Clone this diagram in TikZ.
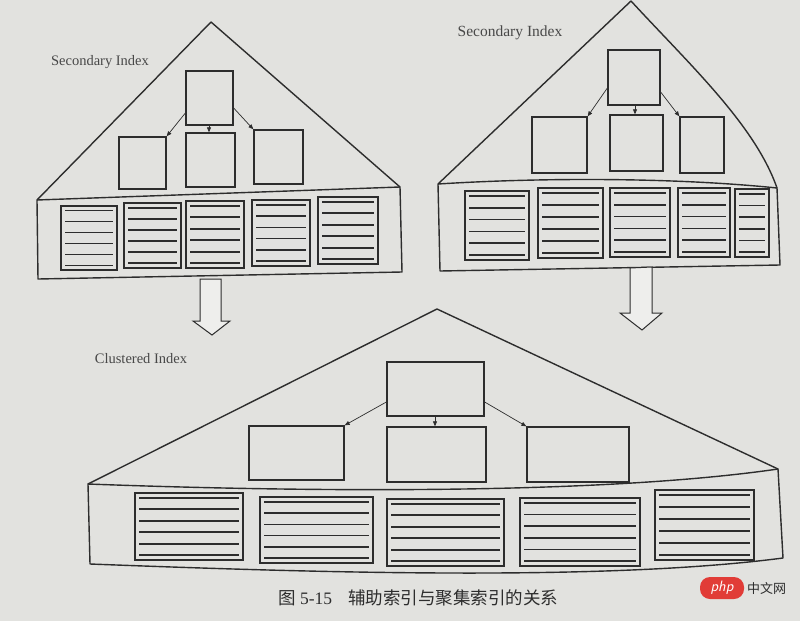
\documentclass[tikz,border=0pt]{standalone}
\usepackage{fontspec}
\setmainfont{Liberation Serif}
\newfontfamily\cjk{Noto Sans CJK SC}
\usetikzlibrary{arrows.meta,fit,calc}
\definecolor{paper}{RGB}{226,226,223}
\definecolor{ink}{RGB}{45,45,45}
\definecolor{labelink}{RGB}{72,72,72}
\definecolor{phpred}{RGB}{225,60,55}
\tikzset{
  outline/.style={draw=ink,line width=1.4pt,line join=round},
  ibox/.style={draw=ink,line width=1.3pt,inner sep=0pt,fill=paper},
  pagebox/.style={draw=ink,line width=1.7pt,inner sep=0pt},
  rowline/.style={draw=ink,line width=1.7pt},
  link/.style={draw=ink,line width=0.7pt,-{Triangle[length=5pt,width=4pt]}},
  blockarrow/.style={draw=ink,line width=1pt,fill=white!40!paper,line join=miter},
  lbl/.style={text=labelink,inner sep=0pt,font=\fontsize{14.5}{16}\selectfont},
}
\newcommand\idxbox[5]{\node[ibox,fit={(#2,#3) (#4,#5)}] (#1) {};}
\newcommand\datapage[5]{%
  \node[pagebox,fit={(#2,#3) (#4,#5)}] (#1) {};
  \foreach \k in {1,...,6}{%
    \draw[rowline] ($(#1.north west)!{(\k-0.5)/6}!(#1.south west)+(5,0)$) --
                   ($(#1.north east)!{(\k-0.5)/6}!(#1.south east)+(-5,0)$);}%
}
\begin{document}
\begin{tikzpicture}[x=1pt,y=-1pt]
\fill[paper] (0,0) rectangle (800,621);
\useasboundingbox (0,0) rectangle (800,621);

% ---------------- left secondary index ----------------
\draw[outline] (37,200) -- (211,22) -- (400,187);
\draw[outline] (37,200) -- (400,187) -- (402,272) -- (38,279) -- cycle;
\node[lbl] (labA) at (100,62) {Secondary Index};
\idxbox{aT}{186}{71}{233}{125}
\idxbox{aL}{119}{137}{166}{189}
\idxbox{aM}{186}{133}{235}{187}
\idxbox{aR}{254}{130}{303}{184}
\draw[link] (aT.west |- 0,113) -- (aL.north east);
\draw[link] (aT.south -| 209,0) -- (aM.north -| 209,0);
\draw[link] (aT.east |- 0,108) -- (aR.north west);
\datapage{a1}{61}{206}{117}{270}
\datapage{a2}{124}{203}{181}{268}
\datapage{a3}{186}{201}{244}{268}
\datapage{a4}{252}{200}{310}{266}
\datapage{a5}{318}{197}{378}{264}

% ---------------- right secondary index ----------------
\draw[outline] (438,184) -- (631,1) .. controls (690,65) and (755,125) .. (777,188);
\draw[outline] (438,184) .. controls (550,177) and (680,178) .. (777,188)
  -- (780,265) -- (440,271) -- cycle;
\node[lbl,font=\fontsize{15.5}{17}\selectfont] (labB) at (510,33) {Secondary Index};
\idxbox{bT}{608}{50}{660}{105}
\idxbox{bL}{532}{117}{587}{173}
\idxbox{bM}{610}{115}{663}{171}
\idxbox{bR}{680}{117}{724}{173}
\draw[link] (bT.west |- 0,88) -- (bL.north east);
\draw[link] (bT.south -| 635,0) -- (bM.north -| 635,0);
\draw[link] (bT.east |- 0,92) -- (bR.north west);
\datapage{b1}{465}{191}{529}{260}
\datapage{b2}{538}{188}{603}{258}
\datapage{b3}{610}{188}{670}{257}
\datapage{b4}{678}{188}{730}{257}
\datapage{b5}{735}{189}{769}{257}

% ---------------- block arrows ----------------
\draw[blockarrow] (200,279) -- (200,321) -- (193,321) -- (212,335) -- (230,321) -- (221,321) -- (221,279) -- cycle;
\draw[blockarrow] (630,268) -- (630,313) -- (620,313) -- (642,330) -- (662,313) -- (652,313) -- (652,267) -- cycle;

% ---------------- clustered index ----------------
\node[lbl] (labC) at (141,359) {Clustered Index};
\draw[outline] (88,484) -- (437,309) -- (778,469);
\draw[outline] (88,484) .. controls (300,492) and (600,495) .. (778,469)
  -- (783,558) .. controls (600,582) and (300,572) .. (90,564) -- cycle;
\idxbox{cT}{387}{362}{484}{416}
\idxbox{cL}{249}{426}{344}{480}
\idxbox{cM}{387}{427}{486}{482}
\idxbox{cR}{527}{427}{629}{482}
\draw[link] (cT.west |- 0,402) -- (cL.north east);
\draw[link] (cT.south -| 435,0) -- (cM.north -| 435,0);
\draw[link] (cT.east |- 0,402) -- (cR.north west);
\datapage{c1}{135}{493}{243}{560}
\datapage{c2}{260}{497}{373}{563}
\datapage{c3}{387}{499}{504}{566}
\datapage{c4}{520}{498}{640}{566}
\datapage{c5}{655}{490}{754}{560}

% ---------------- caption ----------------
\node[anchor=west,inner sep=0pt,text=ink,font=\fontsize{17.5}{20}\selectfont] (cap) at (278,598)
  {{\cjk 图}~5-15\hspace{16pt}{\cjk 辅助索引与聚集索引的关系}};

% ---------------- watermark ----------------
\node[fill=phpred,rounded corners=10pt,minimum width=44pt,minimum height=22pt,inner sep=0pt,
      text=white,font=\sffamily\itshape\fontsize{15}{16}\selectfont] (php) at (722,588) {php};
\node[anchor=west,inner sep=0pt,text=ink,font=\cjk\fontsize{13}{15}\selectfont] (zw) at (747,588) {中文网};
\end{tikzpicture}
\end{document}
